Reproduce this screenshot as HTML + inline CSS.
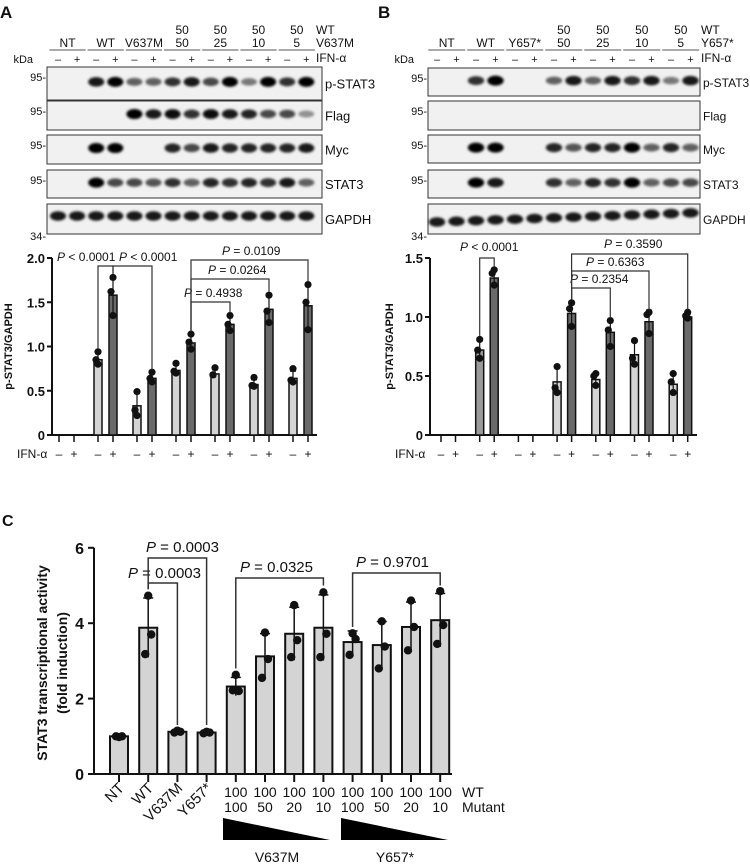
<!DOCTYPE html>
<html><head><meta charset="utf-8"><style>
body{margin:0;background:#fff}
svg{display:block;font-family:"Liberation Sans",Arial,sans-serif}
</style></head><body>
<svg id="fig" width="750" height="864" viewBox="0 0 750 864">
<defs><filter id="bl" x="-50%" y="-100%" width="200%" height="300%"><feGaussianBlur stdDeviation="1.3"/></filter></defs>
</svg>
<script>
// ---------- data ----------
// Panel A (p-STAT3/GAPDH)
const aGroups=["NT","WT","V637M","50/50","50/25","50/10","50/5"];
const aMinus=[0,0.85,0.33,0.73,0.69,0.57,0.64];
const aPlus=[0,1.58,0.64,1.04,1.25,1.42,1.46];
const aMinusPts=[[],[0.94,0.85,0.80],[0.49,0.28,0.22],[0.81,0.72,0.70],[0.76,0.68,0.68],[0.65,0.56,0.55],[0.75,0.62,0.60]];
const aPlusPts=[[],[1.78,1.62,1.35],[0.71,0.64,0.60],[1.14,1.05,0.97],[1.35,1.25,1.18],[1.58,1.40,1.27],[1.70,1.50,1.19]];
const aTicks=[0,0.5,1.0,1.5,2.0];
// Panel B
const bGroups=["NT","WT","Y657*","50/50","50/25","50/10","50/5"];
const bMinus=[0,0.72,0,0.45,0.47,0.68,0.43];
const bPlus=[0,1.33,0,1.03,0.87,0.96,1.00];
const bMinusPts=[[],[0.81,0.72,0.65],[],[0.58,0.40,0.36],[0.52,0.50,0.42],[0.80,0.65,0.60],[0.52,0.45,0.36]];
const bPlusPts=[[],[1.40,1.37,1.27],[],[1.12,1.07,0.92],[0.97,0.89,0.75],[1.04,1.02,0.86],[1.04,1.01,0.99]];
const bTicks=[0,0.5,1.0,1.5];
// Panel C
const cCats=["NT","WT","V637M","Y657*","V100/100","V100/50","V100/20","V100/10","Y100/100","Y100/50","Y100/20","Y100/10"];
const cVals=[1.0,3.88,1.12,1.10,2.32,3.12,3.72,3.88,3.50,3.42,3.90,4.08];
const cPts=[[0.98,1.0,1.0],[4.73,3.70,3.18],[1.15,1.12,1.10],[1.12,1.10,1.08],[2.63,2.20,2.22],[3.75,3.05,2.55],[4.48,3.55,3.10],[4.82,3.72,3.10],[3.73,3.58,3.16],[4.05,3.38,2.80],[4.60,3.90,3.28],[4.85,3.95,3.45]];
const cTicks=[0,2,4,6];
const cWT=["100","100","100","100","100","100","100","100"];
const cMut=["100","50","20","10","100","50","20","10"];
// Blots (band intensity per lane)
const blotA={"p-STAT3":[0,0,.9,1,.6,.6,.8,.9,.7,1,.5,1,.8,1],"Flag":[0,0,0,0,1,.9,.95,.8,.95,.9,.85,.7,.7,.4],"Myc":[0,0,1,1,0,0,.85,.7,.9,.85,.85,.85,.85,.9],"STAT3":[0,0,1,.7,.7,.65,.8,.6,.85,.8,.85,.8,.9,.6],"GAPDH":[.9,.9,.9,.9,.9,.9,.9,.9,.9,.9,.9,.9,.9,.9]};
const blotB={"p-STAT3":[0,0,.8,1,0,0,.6,.9,.6,.9,.8,.9,.5,.9],"Flag":[0,0,0,0,0,0,0,0,0,0,0,0,0,0],"Myc":[0,0,1,1,0,0,.85,.65,.85,.85,1,.6,.85,.6],"STAT3":[0,0,1,.9,0,0,.8,.6,.85,.8,1,.6,.7,.7],"GAPDH":[.9,.9,.9,.9,.9,.9,.9,.9,.9,.9,.9,.9,.9,.9]};

const svg=document.getElementById('fig');
const NS="http://www.w3.org/2000/svg";
function mk(tag,attrs,parent){const e=document.createElementNS(NS,tag);for(const k in attrs)e.setAttribute(k,attrs[k]);(parent||svg).appendChild(e);return e;}
function txt(x,y,s,size,anchor,parent,weight){const t=mk('text',{x:x,y:y,'font-size':size,'text-anchor':anchor||'start','font-weight':weight||'normal',fill:'#111'},parent);t.textContent=s;return t;}
function grp(name){const g=mk('g',{});return g;}
function sd(a){if(a.length<2)return 0;const m=a.reduce((p,c)=>p+c,0)/a.length;return Math.sqrt(a.reduce((p,c)=>p+(c-m)*(c-m),0)/(a.length-1));}

// ---------- panel letters ----------
let g=grp('panel-letters');
txt(0,18,'A',17,'start',g,'bold');txt(378,18,'B',17,'start',g,'bold');txt(2,526,'C',16,'start',g,'bold');

// ---------- blots ----------
function blot(prefix,blot,x0,x1,lane0,laneStep,rows,labelsTop,rightLbl1,rlx,rowFont){
  const bg=grp(prefix+'-western-blot');
  const groupsNames=labelsTop;
  for(let i=0;i<7;i++){
    const cx=lane0+laneStep*(2*i+0.5);
    if(groupsNames[i][0]) txt(cx,34,groupsNames[i][0],12,'middle',bg);
    txt(cx,47,groupsNames[i][1],12,'middle',bg);
    mk('line',{x1:cx-laneStep*0.95,x2:cx+laneStep*0.95,y1:50,y2:50,stroke:'#555','stroke-width':1},bg);
    txt(lane0+laneStep*2*i,63,'–',11,'middle',bg);
    txt(lane0+laneStep*(2*i+1),63,'+',11,'middle',bg);
  }
  txt(x0-14,63,'kDa',11,'end',bg);
  txt(rlx,34,'WT',12,'start',bg);txt(rlx,47,rightLbl1,12,'start',bg);txt(rlx,62,'IFN-α',12,'start',bg);
  const names=Object.keys(blot);
  names.forEach((n,ri)=>{
    const r=rows[ri];
    const rg=grp(prefix+'-blot-'+n.toLowerCase());
    mk('rect',{x:x0,y:r[0],width:x1-x0,height:r[1]-r[0],fill:'#f1f1f1',stroke:'#333','stroke-width':1},rg);
    const yb = n==='GAPDH'? r[0]+(r[1]-r[0])*0.4 : r[0]+(r[1]-r[0])*0.45;
    blot[n].forEach((v,li)=>{
      if(v<=0)return;
      const dy = (prefix==='b'&&n==='GAPDH')? (6-li*0.7):0;
      const b=mk('ellipse',{cx:lane0+laneStep*li,cy:yb+dy,rx:laneStep*0.42,ry:2.5+2.5*v,fill:'#000','fill-opacity':Math.min(1,v),filter:'url(#bl)'},rg);
      
      
    });
    txt(x1+3,(r[0]+r[1])/2+5,n,rowFont,'start',rg);
    if(n!=='GAPDH') txt(x0-1,r[0]+14,'95-',11,'end',rg);
  });
  txt(x0-1,rows[4][1]+6,'34-',11,'end',bg);
}
blot('a',blotA,47,322,58,19.1,[[67,100],[101,130],[135,164],[170,198],[204,234]],
  [["","NT"],["","WT"],["","V637M"],["50","50"],["50","25"],["50","10"],["50","5"]],'V637M',316,13);
blot('b',blotB,428,700,437,19.5,[[68,96],[101,130],[135,163],[170,198],[204,234]],
  [["","NT"],["","WT"],["","Y657*"],["50","50"],["50","25"],["50","10"],["50","5"]],'Y657*',701,12);

// ---------- bar charts A / B ----------
function pchart(prefix,minus,plus,minusPts,plusPts,ticks,ax,ay0,scale,axEnd,firstX,pairGap,groupStep,bw,maxT,minusColors,brackets,titleX){
  const cg=grp(prefix+'-bar-chart');
  const ys=v=>ay0-v*scale;
  const xs=(i,s)=>firstX+i*groupStep+s*pairGap;
  mk('line',{x1:ax,x2:ax,y1:ys(maxT),y2:ay0,stroke:'#111','stroke-width':2},cg);
  mk('line',{x1:ax,x2:axEnd,y1:ay0,y2:ay0,stroke:'#111','stroke-width':2},cg);
  ticks.forEach(t=>{mk('line',{x1:ax-5,x2:ax,y1:ys(t),y2:ys(t),stroke:'#111','stroke-width':2},cg);
    txt(ax-7,ys(t)+5,t===0?'0':t.toFixed(1),13,'end',cg,'bold');});
  const tt=txt(0,0,'p-STAT3/GAPDH',11,'middle',cg,'bold');tt.setAttribute('transform',`translate(${titleX},${ys(maxT/2)}) rotate(-90)`);
  txt(ax-35,ay0+23,'IFN-α',12,'start',cg);
  [[minus,minusPts,0],[plus,plusPts,1]].forEach(([vals,pts,s])=>{
    vals.forEach((v,i)=>{
      const x=xs(i,s);
      mk('line',{x1:x,x2:x,y1:ay0,y2:ay0+7,stroke:'#111','stroke-width':1.5},cg);
      txt(x,ay0+23,s?'+':'–',12,'middle',cg);
      if(v<=0)return;
      const e=sd(pts[i]);
      mk('line',{x1:x,x2:x,y1:ys(v+e),y2:ys(v),stroke:'#111','stroke-width':1.2},cg);
      mk('line',{x1:x-3,x2:x+3,y1:ys(v+e),y2:ys(v+e),stroke:'#111','stroke-width':1.2},cg);
      const r=mk('rect',{x:x-bw/2,y:ys(v),width:bw,height:ay0-ys(v),fill:s?'#6a6a6a':minusColors[i],stroke:'#111','stroke-width':1.5},cg);
      
      
      mk('line',{x1:x,x2:x,y1:ys(v),y2:ys(Math.max(0,v-e)),stroke:'#111','stroke-width':1.2},cg);
      pts[i].forEach(p=>{const c=mk('circle',{cx:x+(p===pts[i][1]?-2:0),cy:ys(p),r:3.6,fill:'#111'},cg);
        
        });
    });
  });
  brackets.forEach(b=>{
    const [g1,s1,g2,s2,yTop,label,tx,ty,y1v,y2v]=b;
    const x1=xs(g1,s1),x2=xs(g2,s2);
    mk('polyline',{points:`${x1},${ys(y1v)} ${x1},${yTop} ${x2},${yTop} ${x2},${ys(y2v)}`,fill:'none',stroke:'#333','stroke-width':1.2},cg);
    const t=mk('text',{x:tx,y:ty,'font-size':12,fill:'#111'},cg);
    t.innerHTML='<tspan font-style="italic">P</tspan>'+label;
    
    
  });
}
pchart('a',aMinus,aPlus,aMinusPts,aPlusPts,aTicks,52,435,88.5,317,59,15,39,8,2.0,
  ['#d4d4d4','#d4d4d4','#d4d4d4','#d4d4d4','#d4d4d4','#d4d4d4','#d4d4d4'],
  [[1,0,1,1,266,' < 0.0001',57,261,0.97,1.82],[1,1,2,1,266,' < 0.0001',119,261,1.82,0.74],
   [3,1,4,1,302,' = 0.4938',184,297,1.17,1.38],[3,1,5,1,279,' = 0.0264',208,274,1.17,1.62],[3,1,6,1,260,' = 0.0109',222,255,1.17,1.73]],12);
pchart('b',bMinus,bPlus,bMinusPts,bPlusPts,bTicks,430,435,118,697,441,14.5,38.7,8,1.5,
  ['#d4d4d4','#9a9a9a','#d4d4d4','#d4d4d4','#d4d4d4','#d4d4d4','#d4d4d4'],
  [[1,0,1,1,258,' < 0.0001',460,251,0.84,1.42],[3,1,4,1,288,' = 0.2354',570,283,1.15,0.99],
   [3,1,5,1,271,' = 0.6363',586,266,1.15,1.06],[3,1,6,1,254,' = 0.3590',604,248,1.15,1.06]],393);

// ---------- panel C ----------
(function(){
  const cg=grp('c-bar-chart');
  const ay0=774,sc=37.7,ax=94,axEnd=452;
  const ys=v=>ay0-v*sc, xs=i=>119+i*29.2;
  mk('line',{x1:ax,x2:ax,y1:ys(6),y2:ay0,stroke:'#111','stroke-width':2},cg);
  mk('line',{x1:ax,x2:axEnd,y1:ay0,y2:ay0,stroke:'#111','stroke-width':2},cg);
  cTicks.forEach(t=>{mk('line',{x1:ax-6,x2:ax,y1:ys(t),y2:ys(t),stroke:'#111','stroke-width':2},cg);
    txt(ax-10,ys(t)+6,String(t),16,'end',cg,'bold');});
  let t1=txt(0,0,'STAT3  transcriptional activity',14,'middle',cg,'bold');t1.setAttribute('transform','translate(47,663) rotate(-90)');
  let t2=txt(0,0,'(fold induction)',14,'middle',cg,'bold');t2.setAttribute('transform','translate(67,663) rotate(-90)');
  cVals.forEach((v,i)=>{
    const x=xs(i),e=sd(cPts[i]);
    mk('line',{x1:x,x2:x,y1:ay0,y2:ay0+8,stroke:'#111','stroke-width':2},cg);
    mk('line',{x1:x,x2:x,y1:ys(v+e),y2:ys(v),stroke:'#111','stroke-width':1.5},cg);
    mk('line',{x1:x-5,x2:x+5,y1:ys(v+e),y2:ys(v+e),stroke:'#111','stroke-width':1.5},cg);
    const r=mk('rect',{x:x-9,y:ys(v),width:18,height:ay0-ys(v),fill:'#d4d4d4',stroke:'#111','stroke-width':2},cg);
    
    
    mk('line',{x1:x,x2:x,y1:ys(v),y2:ys(Math.max(0,v-e)),stroke:'#111','stroke-width':1.5},cg);
    cPts[i].forEach((p,k)=>{const c=mk('circle',{cx:x+(k===1?3:(k===2?-3:0)),cy:ys(p),r:4.2,fill:'#111'},cg);
      
      });
    if(i<4){const lt=txt(0,0,cCats[i],15,'end',cg);lt.setAttribute('transform',`translate(${x+6},${ay0+15}) rotate(-45)`);}
    else{txt(x,ay0+23,cWT[i-4],14,'middle',cg);txt(x,ay0+38,cMut[i-4],14,'middle',cg);}
  });
  txt(462,ay0+23,'WT',14,'start',cg);txt(462,ay0+38,'Mutant',14,'start',cg);
  mk('polygon',{points:'223,818 223,840 330,840',fill:'#000'},cg);
  mk('polygon',{points:'341,818 341,840 448,840',fill:'#000'},cg);
  txt(277,862,'V637M',14,'middle',cg);txt(395,862,'Y657*',14,'middle',cg);
  const br=[[1,2,583,' = 0.0003',128,578,4.9,1.3],[1,3,558,' = 0.0003',146,552,4.9,1.3],[4,7,578,' = 0.0325',240,572,2.8,5.0],[8,11,573,' = 0.9701',356,567,3.9,5.0]];
  br.forEach(b=>{const [i1,i2,yt,l,tx,ty,v1,v2]=b;
    mk('polyline',{points:`${xs(i1)},${ys(v1)} ${xs(i1)},${yt} ${xs(i2)},${yt} ${xs(i2)},${ys(v2)}`,fill:'none',stroke:'#333','stroke-width':1.5},cg);
    const t=mk('text',{x:tx,y:ty,'font-size':15,fill:'#111'},cg);
    t.innerHTML='<tspan font-style="italic">P</tspan>'+l;
    
    });
})();
</script>
</body></html>
